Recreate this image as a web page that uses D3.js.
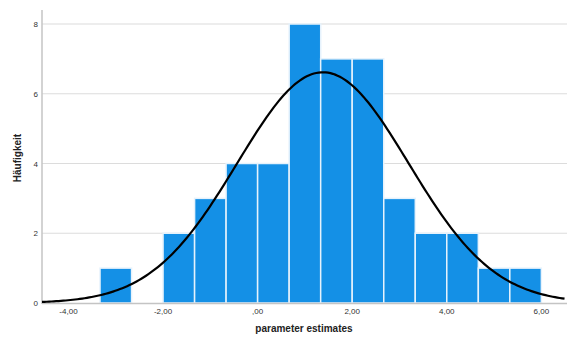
<!DOCTYPE html>
<html>
<head>
<meta charset="utf-8">
<script src="https://cdn.jsdelivr.net/npm/d3@7"></script>
<style>
body{margin:0;background:#fff;}
text{font-family:"Liberation Sans",Arial,sans-serif;}
</style>
</head>
<body>
<svg id="chart" width="567" height="340"></svg>
<script>
// histogram bins (lower edge, count), all bins same width
var binStarts=[-3.333,-2.667,-2.0,-1.333,-0.667,0.0,0.667,1.333,2.0,2.667,3.333,4.0,4.667,5.333];
var binWidth=0.667;
var counts=[1,0,2,3,4,4,8,7,7,3,2,2,1,1];
var xTicks=[-4,-2,0,2,4,6];
var yTicks=[0,2,4,6,8];
// fitted normal curve params
var curveMean=1.38;
var curveSd=1.81;
var curveN=45;

var svg=d3.select("#chart");
var xScale=d3.scaleLinear().domain([-4.56,6.5]).range([42,565]);
var yScale=d3.scaleLinear().domain([0,8]).range([303,24]);

//gridlines
svg.append("g").selectAll("line").data(yTicks.filter(function(d){return d>0;}))
	.enter().append("line")
	.attr("x1",42).attr("x2",567)
	.attr("y1",function(d){return yScale(d);})
	.attr("y2",function(d){return yScale(d);})
	.attr("stroke","#dcdcdc").attr("stroke-width",1.2);

//bars
var bins=binStarts.map(function(s,i){return {x0:s,x1:s+binWidth,n:counts[i]};});
svg.append("g").selectAll("rect").data(bins.filter(function(b){return b.n>0;}))
	.enter().append("rect")
	.attr("x",function(d){return xScale(d.x0);})
	.attr("width",function(d){return xScale(d.x1)-xScale(d.x0);})
	.attr("y",function(d){return yScale(d.n);})
	.attr("height",function(d){return yScale(0)-yScale(d.n);})
	.attr("fill","#1490e6")
	.attr("stroke","#e6f2fc").attr("stroke-width",1.5);

//axis lines
svg.append("line").attr("x1",42).attr("x2",567).attr("y1",303.5).attr("y2",303.5)
	.attr("stroke","#c4c4c4").attr("stroke-width",1.5);
svg.append("line").attr("x1",42).attr("x2",42).attr("y1",10).attr("y2",304)
	.attr("stroke","#c4c4c4").attr("stroke-width",1.5);

//normal curve
var pts=d3.range(-4.56,6.51,0.05).map(function(v){
	var z=(v-curveMean)/curveSd;
	return [v,curveN*binWidth*Math.exp(-0.5*z*z)/(curveSd*Math.sqrt(2*Math.PI))];
});
svg.append("path").datum(pts)
	.attr("d",d3.line().x(function(d){return xScale(d[0]);}).y(function(d){return yScale(d[1]);}))
	.attr("fill","none").attr("stroke","#000").attr("stroke-width",2.2);

//tick labels
var fmt=function(d){var s=d.toFixed(2).replace(".",",");return d===0?",00":s;};
svg.append("g").selectAll("text").data(xTicks).enter().append("text")
	.attr("x",function(d){return xScale(d);}).attr("y",314)
	.attr("text-anchor","middle").attr("font-size",8).attr("fill","#333")
	.text(fmt);
svg.append("g").selectAll("text").data(yTicks).enter().append("text")
	.attr("x",38).attr("y",function(d){return yScale(d)+3;})
	.attr("text-anchor","end").attr("font-size",8).attr("fill","#333")
	.text(function(d){return d;});

//axis titles
svg.append("text").attr("x",304).attr("y",332).attr("text-anchor","middle")
	.attr("font-size",10).attr("font-weight","bold").attr("fill","#222")
	.text("parameter estimates");
svg.append("text").attr("transform","translate(21,158) rotate(-90)").attr("text-anchor","middle")
	.attr("font-size",10).attr("font-weight","bold").attr("fill","#222")
	.text("Häufigkeit");
</script>
</body>
</html>
